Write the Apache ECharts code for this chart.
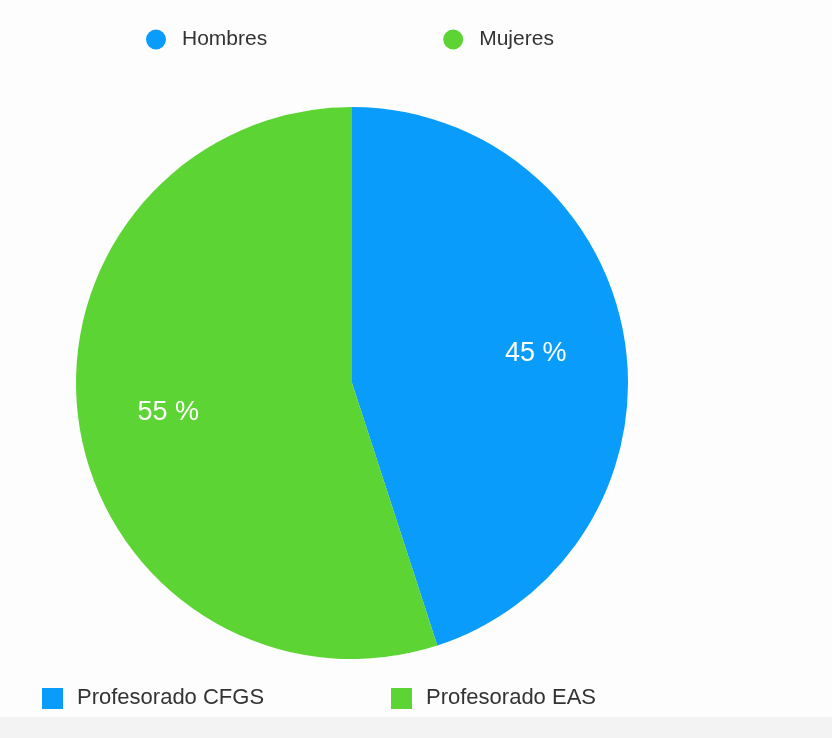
<!DOCTYPE html>
<html>
<head>
<meta charset="utf-8">
<script src="https://cdn.jsdelivr.net/npm/echarts@6/dist/echarts.min.js"></script>
<style>
  html, body { margin: 0; padding: 0; background: #fdfdfd; }
  #chart { width: 832px; height: 738px; }
</style>
</head>
<body>
<div id="chart"></div>
<script>
// datos del gráfico
const categories = ['Hombres', 'Mujeres']
const values = [45, 55]
const colors = ['#0a9cfb', '#5cd434']
const groups = ['Profesorado CFGS', 'Profesorado EAS']

const cx = 352
const cy = 383
const fontFamily = '"Liberation Sans", Arial, Helvetica, sans-serif'

const dom = document.getElementById('chart')
const myChart = echarts.init(dom)

// leyenda inferior (cuadrados)
const bottomLegend = []
const bottomX = [42, 391]
groups.forEach(function (g, i) {
  bottomLegend.push({
    type: 'rect',
    left: bottomX[i],
    top: 688,
    shape: { width: 21, height: 21 },
    style: { fill: colors[i] }
  })
  bottomLegend.push({
    type: 'text',
    left: bottomX[i] + 35,
    top: 687,
    style: {
      text: g,
      fill: '#333',
      font: '22px ' + fontFamily
    }
  })
})

const option = {
  backgroundColor: '#fdfdfd',
  color: colors,
  legend: {
    top: 24,
    left: 141,
    icon: 'circle',
    itemWidth: 30,
    itemHeight: 20,
    itemGap: 176,
    textStyle: {
      fontSize: 21,
      color: '#333',
      fontFamily: fontFamily,
      padding: [0, 0, 0, 6]
    },
    data: categories
  },
  graphic: [
    {
      type: 'rect',
      left: 0,
      top: 717,
      shape: { width: 832, height: 21 },
      style: { fill: '#f3f3f3' }
    }
  ].concat(bottomLegend),
  series: [
    {
      name: 'Profesorado CFGS',
      type: 'pie',
      center: [cx, cy],
      radius: 276,
      startAngle: 90,
      clockwise: true,
      animation: false,
      label: {
        show: true,
        position: 'inside',
        formatter: '{c} %',
        color: '#fff',
        fontSize: 27,
        fontFamily: fontFamily
      },
      // mueve la etiqueta más hacia fuera del centro
      labelLayout: function (params) {
        const r = params.labelRect
        const lx = r.x + r.width / 2
        const ly = r.y + r.height / 2
        return {
          dx: (lx - cx) * 0.32,
          dy: (ly - cy) * 0.32
        }
      },
      labelLine: { show: false },
      itemStyle: { borderWidth: 0 },
      data: categories.map(function (c, i) {
        return { name: c, value: values[i] }
      })
    }
  ]
}

myChart.setOption(option)
</script>
</body>
</html>
